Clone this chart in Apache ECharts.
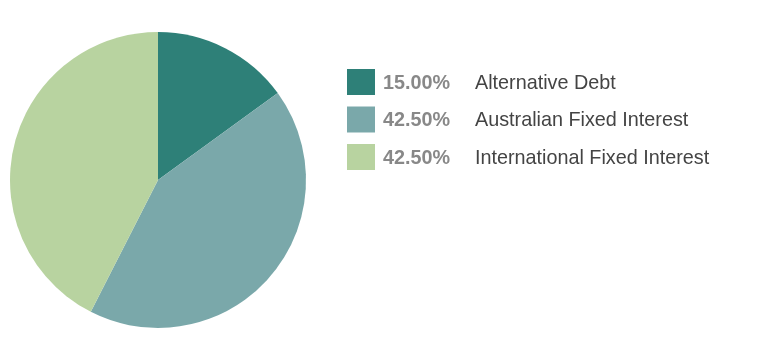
<!DOCTYPE html>
<html>
<head>
<meta charset="utf-8">
<script src="https://cdn.jsdelivr.net/npm/echarts@6/dist/echarts.min.js"></script>
<style>html,body{margin:0;padding:0;background:#fff}#c{width:783px;height:357px}</style>
</head>
<body>
<div id="c"></div>
<script>
const categories = ['Alternative Debt', 'Australian Fixed Interest', 'International Fixed Interest'];
const values = [15.00, 42.50, 42.50];
const colors = ['#2e8078', '#7aa8aa', '#b8d3a0'];

const chart = echarts.init(document.getElementById('c'), null, {renderer: 'canvas'});
const data = categories.map((n, i) => ({name: n, value: values[i], itemStyle: {color: colors[i]}}));
chart.setOption({
  animation: false,
  legend: {
    orient: 'vertical',
    left: 347,
    top: 69,
    padding: 0,
    itemWidth: 28,
    itemHeight: 26,
    itemGap: 11.5,
    selectedMode: false,
    icon: 'rect',
    data: categories,
    formatter: function (name) {
      const i = categories.indexOf(name);
      return '{p|' + values[i].toFixed(2) + '%}{n|' + name + '}';
    },
    textStyle: {
      rich: {
        p: {fontFamily: 'Liberation Sans', fontSize: 19.8, fontWeight: 'bold', color: '#888888', width: 92, padding: [3, 0, 0, 3], lineHeight: 26},
        n: {fontFamily: 'Liberation Sans', fontSize: 19.8, color: '#444444', padding: [3, 0, 0, 0], lineHeight: 26}
      }
    }
  },
  series: [{
    type: 'pie',
    center: [158, 180],
    radius: 148,
    startAngle: 90,
    clockwise: true,
    label: {show: false},
    labelLine: {show: false},
    emphasis: {disabled: true},
    itemStyle: {borderWidth: 0},
    data: data
  }]
});
</script>
</body>
</html>
